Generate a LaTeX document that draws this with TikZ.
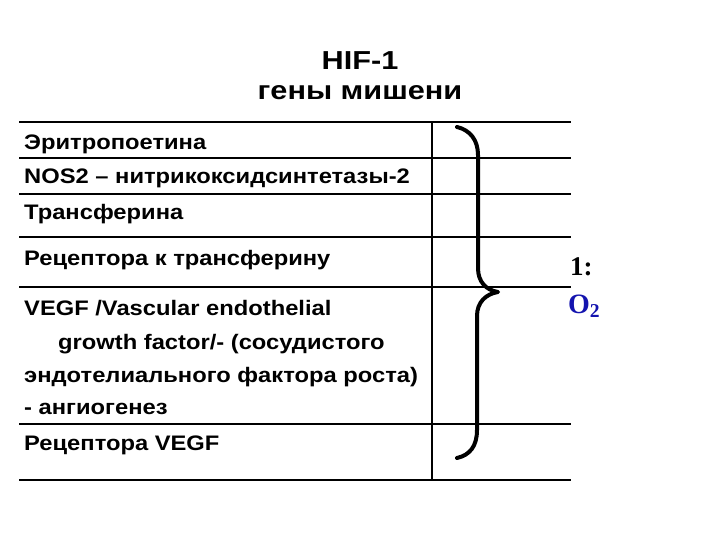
\documentclass[tikz,border=0pt]{standalone}
\usepackage{fontspec}
\setmainfont{Liberation Sans}
\newfontfamily\bodyfont[FakeStretch=1.13]{Liberation Sans}
\newfontfamily\titlefont[FakeStretch=1.18]{Liberation Sans}
\newfontfamily\serifb{Liberation Serif}
\definecolor{oblue}{RGB}{20,20,175}
\begin{document}
\begin{tikzpicture}[x=1pt,y=-1pt,
  rule/.style={line width=1.1pt,black},
  gene/.style={anchor=base west,inner sep=0pt,font=\bodyfont\bfseries\fontsize{21}{24}\selectfont},
  ttl/.style={anchor=base,inner sep=0pt,font=\titlefont\bfseries\fontsize{26}{30}\selectfont},
  brace/.style={line width=4pt,line cap=round,line join=round}]
\useasboundingbox (0,0) rectangle (720,540);
% title
\node[ttl] (t1) at (360,70) {HIF-1};
\node[ttl] (t2) at (360,100) {гены мишени};
% rules
\foreach \yy in {122,158,194,237,287,424,480}
  \draw[rule] (19,\yy) -- (571,\yy);
\draw[rule] (432,122) -- (432,480);
% genes
\node[gene] (g1) at (24,150) {Эритропоетина};
\node[gene] (g2) at (24,184) {NOS2 – нитрикоксидсинтетазы-2};
\node[gene] (g3) at (24,220) {Трансферина};
\node[gene] (g4) at (24,265) {Рецептора к трансферину};
\node[gene] (g5a) at (24,315) {VEGF /Vascular endothelial};
\node[gene] (g5b) at (58,349) {growth factor/- (сосудистого};
\node[gene] (g5c) at (24,382) {эндотелиального фактора роста)};
\node[gene] (g5d) at (24,414) {- ангиогенез};
\node[gene] (g6) at (24,450) {Рецептора VEGF};
% brace
\draw[brace] (457,127) .. controls (470,130) and (478,140) .. (478,155)
  -- (478,268) .. controls (478,282) and (486,290) .. (498,292)
  .. controls (486,294) and (477,302) .. (477,316)
  -- (477,430) .. controls (477,446) and (470,455) .. (457,458);
% O2 label
\node[anchor=base west,inner sep=0pt,font=\serifb\bfseries\fontsize{27}{30}\selectfont] (one) at (570,275) {1:};
\node[anchor=base west,inner sep=0pt,text=oblue,font=\serifb\bfseries\fontsize{28}{30}\selectfont] (o2) at (568,313) {O\textsubscript{2}};
\end{tikzpicture}
\end{document}
